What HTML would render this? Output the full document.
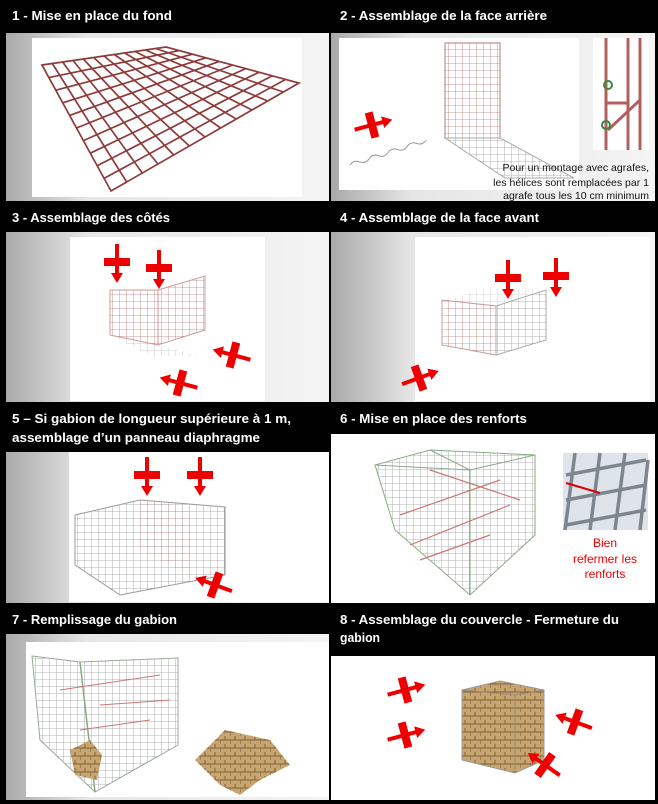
<!DOCTYPE html>
<html><head><meta charset="utf-8"><style>
html,body{margin:0;padding:0;background:#000;}
svg{display:block}
.h{font-family:"Liberation Sans",sans-serif;font-weight:bold;font-size:13px;fill:#fff}
</style></head><body>
<svg width="658" height="804" viewBox="0 0 658 804" xmlns="http://www.w3.org/2000/svg">
<defs>
<linearGradient id="g" x1="0" y1="0" x2="1" y2="0">
<stop offset="0" stop-color="#a9a9a9"/><stop offset="0.25" stop-color="#e6e6e6"/><stop offset="1" stop-color="#f4f4f4"/></linearGradient>
<pattern id="m" width="7" height="7" patternUnits="userSpaceOnUse"><path d="M0 0H7M0 0V7" stroke="#9a9a9a" stroke-width="0.8" fill="none"/></pattern>
<pattern id="mr" width="7" height="7" patternUnits="userSpaceOnUse"><path d="M0 0H7M0 0V7" stroke="#b57a7a" stroke-width="0.8" fill="none"/></pattern>
<pattern id="st" width="10" height="8" patternUnits="userSpaceOnUse"><rect width="10" height="8" fill="#c9a56e"/><path d="M0 4H10M5 0V4M0 4V8" stroke="#7a6040" stroke-width="1"/></pattern>
<g id="arr"><rect x="-4" y="-13" width="8" height="26" fill="#e00"/><path d="M-18 0H13" stroke="#e00" stroke-width="4"/><path d="M11 -6L21 0 11 6Z" fill="#e00"/></g>
</defs>
<rect width="658" height="804" fill="#000"/>
<!-- headers -->
<text class="h" x="12" y="20" textLength="160" lengthAdjust="spacingAndGlyphs">1 - Mise en place du fond</text>
<text class="h" x="340" y="20" textLength="207" lengthAdjust="spacingAndGlyphs">2 - Assemblage de la face arrière</text>
<text class="h" x="12" y="222" textLength="158" lengthAdjust="spacingAndGlyphs">3 - Assemblage des côtés</text>
<text class="h" x="340" y="222" textLength="199" lengthAdjust="spacingAndGlyphs">4 - Assemblage de la face avant</text>
<text class="h" x="12" y="423" textLength="279" lengthAdjust="spacingAndGlyphs">5 – Si gabion de longueur supérieure à 1 m,</text>
<text class="h" x="12" y="442" textLength="248" lengthAdjust="spacingAndGlyphs">assemblage d’un panneau diaphragme</text>
<text class="h" x="340" y="423" textLength="187" lengthAdjust="spacingAndGlyphs">6 - Mise en place des renforts</text>
<text class="h" x="12" y="624" textLength="165" lengthAdjust="spacingAndGlyphs">7 - Remplissage du gabion</text>
<text class="h" x="340" y="624" textLength="279" lengthAdjust="spacingAndGlyphs">8 - Assemblage du couvercle - Fermeture du</text>
<text class="h" x="340" y="642" textLength="40" lengthAdjust="spacingAndGlyphs">gabion</text>

<!-- panel backgrounds -->
<rect x="6" y="33" width="323" height="168" fill="url(#g)"/>
<rect x="331" y="33" width="324" height="168" fill="url(#g)"/>
<rect x="6" y="232" width="323" height="170" fill="url(#g)"/>
<rect x="331" y="232" width="324" height="170" fill="url(#g)"/>
<rect x="6" y="452" width="323" height="151" fill="url(#g)"/>
<rect x="331" y="434" width="324" height="169" fill="#fff"/>
<rect x="6" y="634" width="323" height="166" fill="url(#g)"/>
<rect x="331" y="656" width="324" height="144" fill="#fff"/>

<!-- panel 1 -->
<rect x="32" y="38" width="270" height="159" fill="#fff"/>
<g stroke="#8e3a3a" stroke-width="1.7" fill="none">
<path d="M42 65L166 47 299 83 111 191Z"/>
<path d="M52.3 63.5L126.7 182M62.7 62L142.3 173M73 60.5L158 164M83.3 59L173.7 155M93.7 57.5L189.3 146M104 56L205 137M114.3 54.5L220.7 128M124.7 53L236.3 119M135 51.5L252 110M145.3 50L267.7 101M155.7 48.5L283.3 92"/>
<path d="M48.9 77.6L179.3 50.6M55.8 90.2L192.6 54.2M62.7 102.8L205.9 57.8M69.6 115.4L219.2 61.4M76.5 128L232.5 65M83.4 140.6L245.8 68.6M90.3 153.2L259.1 72.2M97.2 165.8L272.4 75.8M104.1 178.4L285.7 79.4"/>
</g>

<!-- panel 2 -->
<rect x="339" y="38" width="240" height="152" fill="#fff"/>
<rect x="445" y="43" width="55" height="95" fill="url(#mr)" stroke="#b57a7a"/>
<path d="M445 138L500 138 574 178 505 178Z" fill="url(#m)" stroke="#aaa"/>
<path d="M350 165q5-4 10 0t10 0 10 0 10 0 10 0 10 0 10 0 10 0" stroke="#999" fill="none" transform="rotate(-18 350 165)"/>
<use href="#arr" x="372" y="125" transform="rotate(-15 372 125)"/>
<rect x="593" y="38" width="56" height="112" fill="#fff"/>
<path d="M606 38V150M628 38V150M640 38V150" stroke="#b06060" stroke-width="3"/>
<path d="M606 103H628M608 130L640 100" stroke="#b06060" stroke-width="3"/>
<circle cx="608" cy="85" r="4" fill="none" stroke="#3a8a3a" stroke-width="2"/><circle cx="606" cy="125" r="4" fill="none" stroke="#3a8a3a" stroke-width="2"/>
<g font-family="'Liberation Sans Narrow','Liberation Sans',sans-serif" font-size="10.5" fill="#111" text-anchor="end">
<text x="649" y="171">Pour un montage avec agrafes,</text>
<text x="649" y="186">les hélices sont remplacées par 1</text>
<text x="649" y="199">agrafe tous les 10 cm minimum</text></g>

<!-- panel 3 -->
<rect x="70" y="237" width="195" height="164" fill="#fff"/>
<path d="M110 290L158 290 158 345 110 335Z" fill="url(#mr)" stroke="#c99"/>
<path d="M158 290L205 276 205 330 158 345Z" fill="url(#mr)" stroke="#c99"/>
<path d="M110 335L158 345 200 356 152 356Z" fill="url(#m)" opacity=".6"/>
<use href="#arr" x="117" y="262" transform="rotate(90 117 262)"/><use href="#arr" x="159" y="268" transform="rotate(90 159 268)"/>
<use href="#arr" x="233" y="355" transform="rotate(195 233 355)"/><use href="#arr" x="180" y="383" transform="rotate(195 180 383)"/>

<!-- panel 4 -->
<rect x="415" y="237" width="235" height="164" fill="#fff"/>
<path d="M442 300L496 306 496 355 442 345Z" fill="url(#mr)" stroke="#c99"/>
<path d="M496 306L546 290 546 340 496 355Z" fill="url(#m)" stroke="#aaa"/>
<path d="M442 300L490 288 546 290 496 306Z" fill="url(#m)" opacity=".5"/>
<use href="#arr" x="508" y="278" transform="rotate(90 508 278)"/><use href="#arr" x="556" y="276" transform="rotate(90 556 276)"/>
<use href="#arr" x="419" y="378" transform="rotate(-20 419 378)"/>

<!-- panel 5 -->
<rect x="69" y="452" width="260" height="150" fill="#fff"/>
<path d="M75 515L140 500 225 507 225 575 120 595 75 565Z" fill="url(#m)" stroke="#999"/>
<path d="M140 500L190 507 190 575 140 550Z" fill="url(#mr)" opacity=".8"/>
<use href="#arr" x="147" y="475" transform="rotate(90 147 475)"/><use href="#arr" x="200" y="475" transform="rotate(90 200 475)"/>
<use href="#arr" x="215" y="585" transform="rotate(200 215 585)"/>

<!-- panel 6 -->
<path d="M375 465L430 450 535 455 535 535 470 595 395 530Z" fill="url(#m)" stroke="#8a8"/>
<path d="M430 450L470 470 470 595M375 465L470 470 535 455" stroke="#8a8" fill="none"/>
<path d="M400 515L500 480M410 545L510 505M420 560L490 535M430 470L520 500" stroke="#c77" stroke-width="1.2"/>
<rect x="563" y="453" width="85" height="77" fill="#dfe4ea"/>
<path d="M566 475L646 460M566 500L646 485M566 525L646 510M575 453L565 530M600 453L590 530M625 453L615 530M648 460L640 530" stroke="#7d858f" stroke-width="3.5"/>
<path d="M566 483L600 493" stroke="#d00" stroke-width="2"/>
<g font-family="'Liberation Sans',sans-serif" font-size="12" fill="#e00" text-anchor="middle">
<text x="605" y="547">Bien</text><text x="605" y="563">refermer les</text><text x="605" y="578">renforts</text></g>

<!-- panel 7 -->
<rect x="26" y="642" width="303" height="155" fill="#fff"/>
<path d="M32 656L80 662 178 658 178 745 95 792 40 740Z" fill="url(#m)" stroke="#9a9"/>
<path d="M80 662L95 792" stroke="#8a8" stroke-width="1.5"/>
<path d="M60 690L160 675M100 705L170 700M80 730L150 720" stroke="#c77"/>
<path d="M70 750l20-10 12 15-5 25-22-5Z" fill="url(#st)"/>
<path d="M195 760l30-30 45 10 20 25-30 15-20 15-20-10Z" fill="url(#st)"/>

<!-- panel 8 -->
<path d="M462 690L500 681 544 690 544 760 515 773 462 760Z" fill="url(#st)" stroke="#999"/>
<path d="M462 690L515 695 544 690M515 695V773" stroke="#987" fill="none"/>
<use href="#arr" x="405" y="690" transform="rotate(-15 405 690)"/>
<use href="#arr" x="405" y="735" transform="rotate(-15 405 735)"/>
<use href="#arr" x="575" y="722" transform="rotate(200 575 722)"/>
<use href="#arr" x="545" y="765" transform="rotate(215 545 765)"/>
</svg>
</body></html>
